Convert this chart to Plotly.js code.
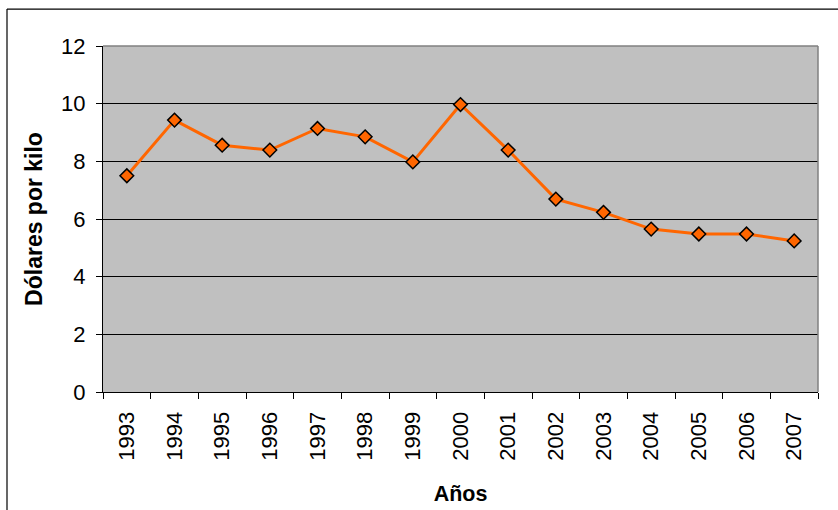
<!DOCTYPE html>
<html>
<head>
<meta charset="utf-8">
<script src="https://cdn.plot.ly/plotly-3.0.1.min.js"></script>
<style>
  html, body { margin: 0; padding: 0; background: #ffffff; }
  #chart { width: 838px; height: 510px; }
</style>
</head>
<body>
<div id="chart"></div>
<script>
const years = ["1993","1994","1995","1996","1997","1998","1999","2000","2001","2002","2003","2004","2005","2006","2007"];
const pricePerKilo = [7.50, 9.43, 8.56, 8.39, 9.14, 8.85, 7.98, 9.97, 8.39, 6.69, 6.23, 5.65, 5.48, 5.48, 5.24];
const yTicks = [0, 2, 4, 6, 8, 10, 12];
const xTitle = "Años";
const yTitle = "Dólares por kilo";

const FONT = "Arial, 'Liberation Sans', sans-serif";

const trace = {
  type: "scatter",
  mode: "lines+markers",
  x: years,
  y: pricePerKilo,
  line: { color: "#FF6600", width: 3 },
  marker: { symbol: "diamond", size: 10.5, color: "#FF6600", line: { color: "#000000", width: 1.5 } },
  cliponaxis: false,
  hoverinfo: "x+y"
};

const layout = {
  width: 838,
  height: 510,
  paper_bgcolor: "#ffffff",
  plot_bgcolor: "#C0C0C0",
  margin: { l: 103, r: 20, t: 46, b: 118 },
  showlegend: false,
  font: { family: FONT, size: 22, color: "#000000" },
  xaxis: {
    type: "category",
    range: [-0.5, years.length - 0.5],
    tickson: "boundaries",
    ticks: "outside",
    ticklen: 6,
    tickwidth: 1,
    tickcolor: "#000000",
    tickangle: -90,
    ticklabelstandoff: 10,
    showline: true,
    linecolor: "#000000",
    linewidth: 1,
    showgrid: false,
    zeroline: false,
    tickfont: { family: FONT, size: 22, color: "#000000" },
    title: { text: "<b>" + xTitle + "</b>", font: { family: FONT, size: 21.5, color: "#000000" }, standoff: 26 },
    automargin: false,
    fixedrange: true
  },
  yaxis: {
    range: [0, 12],
    tickmode: "array",
    tickvals: yTicks,
    ticktext: yTicks.map(String),
    ticks: "outside",
    ticklen: 6,
    tickwidth: 1,
    tickcolor: "#000000",
    ticklabelstandoff: 6,
    showline: true,
    linecolor: "#000000",
    linewidth: 1,
    showgrid: true,
    gridcolor: "#000000",
    gridwidth: 1,
    zeroline: false,
    tickfont: { family: FONT, size: 22, color: "#000000" },
    title: { text: "<b>" + yTitle + "</b>", font: { family: FONT, size: 23, color: "#000000" }, standoff: 12 },
    automargin: false,
    fixedrange: true
  },
  shapes: [
    { type: "line", xref: "paper", yref: "paper", x0: 0, x1: 1, y0: 1, y1: 1, line: { color: "#808080", width: 1.5 }, layer: "above" },
    { type: "line", xref: "paper", yref: "paper", x0: 1, x1: 1, y0: 0, y1: 1, line: { color: "#808080", width: 1.5 }, layer: "above" },
    { type: "line", xref: "paper", yref: "paper", x0: -96 / 715, x1: 740 / 715, y0: 1 + 37 / 346.6, y1: 1 + 37 / 346.6, line: { color: "#000000", width: 1.2 }, layer: "above" },
    { type: "line", xref: "paper", yref: "paper", x0: -96 / 715, x1: -96 / 715, y0: 1 + 37 / 346.6, y1: -130 / 346.6, line: { color: "#000000", width: 1.2 }, layer: "above" }
  ]
};

Plotly.newPlot("chart", [trace], layout, { displayModeBar: false, staticPlot: true });
</script>
</body>
</html>
